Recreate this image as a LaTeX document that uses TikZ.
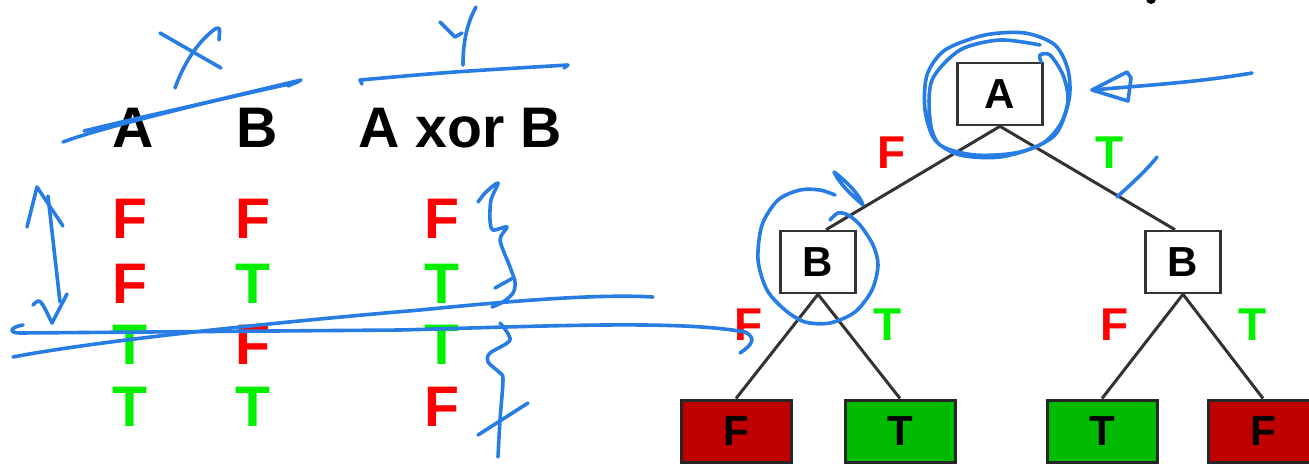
\documentclass[tikz,border=0pt]{standalone}
\usepackage{fontspec}
\setmainfont{Liberation Sans}
\usepackage{tikz}
\usetikzlibrary{positioning}

\definecolor{penblue}{RGB}{40,125,228}
\definecolor{valred}{RGB}{255,0,0}
\definecolor{valgreen}{RGB}{0,240,0}
\definecolor{leafred}{RGB}{192,0,0}
\definecolor{leafgreen}{RGB}{0,187,0}

\tikzset{
    head/.style={font=\fontsize{28.6}{30}\selectfont\bfseries, text=black, inner sep=0pt},
    fval/.style={font=\fontsize{28.6}{30}\selectfont\bfseries, text=valred, inner sep=0pt},
    tval/.style={font=\fontsize{28.6}{30}\selectfont\bfseries, text=valgreen, inner sep=0pt},
    edgeF/.style={font=\fontsize{23}{24}\selectfont\bfseries, text=valred, inner sep=0pt},
    edgeT/.style={font=\fontsize{23}{24}\selectfont\bfseries, text=valgreen, inner sep=0pt},
    test/.style={rectangle, draw=black!80, line width=1.3pt, fill=white, minimum width=42.5pt, minimum height=31pt, font=\fontsize{21}{22}\selectfont\bfseries},
    leaf/.style={rectangle, draw=black!85, line width=1.5pt, minimum width=55pt, minimum height=31pt, font=\fontsize{21}{22}\selectfont\bfseries},
    branch/.style={draw=black!80, line width=1.5pt},
    ink/.style={draw=penblue, line width=1.8pt, line cap=round, line join=round}
}

\begin{document}
\begin{tikzpicture}[x=0.5pt, y=-0.5pt]
    \useasboundingbox (0,0) rectangle (1309,465);
    \clip (0,0) rectangle (1309,465);

    % truth table
    \node (hA) [head] at (133,128) {A};
    \node (hB) [head] at (257,128) {B};
    \node (hX) [head] at (460,128) {A xor B};

    \node (a1) [fval] at (130,219) {F};
    \node (b1) [fval] at (253,219) {F};
    \node (x1) [fval] at (442,219) {F};
    \node (a2) [fval] at (130,284) {F};
    \node (b2) [tval] at (253,284) {T};
    \node (x2) [tval] at (442,284) {T};
    \node (a3) [tval] at (130,345) {T};
    \node (b3) [fval] at (253,345) {F};
    \node (x3) [tval] at (442,345) {T};
    \node (a4) [tval] at (130,407) {T};
    \node (b4) [tval] at (253,407) {T};
    \node (x4) [fval] at (442,407) {F};

    % decision tree
    \node (top) [test] at (1000,94) {A};
    \node (bf) [test, minimum width=37.5pt] at (818,262) {B};
    \node (bt) [test, minimum width=37.5pt] at (1183,262) {B};
    \node (ff) [leaf, fill=leafred] at (736,431) {F};
    \node (ft) [leaf, fill=leafgreen] at (900,431) {T};
    \node (tf) [leaf, fill=leafgreen] at (1102,431) {T};
    \node (tt) [leaf, fill=leafred] at (1263,431) {F};

    \draw [branch] (top.south) -- ([xshift=4pt]bf.north);
    \draw [branch] (top.south) -- ([xshift=-4pt]bt.north);
    \draw [branch] (bf.south) -- (ff.north);
    \draw [branch] (bf.south) -- (ft.north);
    \draw [branch] (bt.south) -- (tf.north);
    \draw [branch] (bt.south) -- (tt.north);

    \node (eAF) [edgeF] at (892,153) {F};
    \node (eAT) [edgeT] at (1110,153) {T};
    \node (eBF) [edgeF] at (749,325) {F};
    \node (eBT) [edgeT] at (888,325) {T};
    \node (eCF) [edgeF] at (1115,325) {F};
    \node (eCT) [edgeT] at (1253,325) {T};

    \fill (1151,-1) circle (2.5pt);

    % pen marks over the table
    \draw [ink] (63,142) .. controls (100,128) and (200,104) .. (301,80) -- (288,86);
    \draw [ink] (84,131) .. controls (150,115) and (240,95) .. (298,82);
    \draw [ink] (160,33) -- (221,68);
    \draw [ink] (175,88) .. controls (185,60) and (200,40) .. (215,29) .. controls (220,27) .. (219,40);
    \draw [ink] (362,84) -- (360,80) .. controls (450,72) .. (568,65) -- (564,68);
    \draw [ink] (440,22) -- (455,37) -- (462,33);
    \draw [ink] (463,65) .. controls (463,45) and (466,25) .. (476,7);

    \draw [ink] (27,227) -- (37,187) -- (63,226);
    \draw [ink] (48,196) -- (60,302);
    \draw [ink] (33,305) .. controls (40,298) .. (52,323) -- (67,294);

    \draw [ink] plot [smooth] coordinates {(478,202) (486,192) (498,183) (491,200) (490,220) (493,230) (507,227) (500,240) (510,267) (515,282) (513,293) (503,302) (492,307)};
    \draw [ink] (495,288) -- (513,278);
    \draw [ink] plot [smooth] coordinates {(500,323) (510,340) (490,353) (488,362) (500,373) (503,380) (500,420) (498,457)};
    \draw [ink] (478,435) -- (528,403);

    \draw [ink] (13,357) .. controls (100,340) and (300,320) .. (420,310) .. controls (520,300) and (600,294) .. (653,297);
    \draw [ink] (23,325) .. controls (10,327) and (8,333) .. (20,333) -- (400,330) .. controls (550,326) and (680,320) .. (745,332) .. controls (757,338) and (752,345) .. (740,353);

    % pen marks over the tree
    \draw [ink] plot [smooth] coordinates {(1041,62) (1040,55) (1050,55) (1063,75) (1068,100) (1060,125) (1040,145) (1000,157) (960,155) (935,140) (925,110) (927,75) (945,50) (985,35) (1025,33) (1055,45) (1068,70) (1069,100) (1055,135) (1020,152) (975,155) (940,145) (930,120) (932,80) (960,50) (1000,40) (1040,45)};
    \draw [ink] (1252,73) .. controls (1200,82) and (1150,85) .. (1092,90);
    \draw [ink] (1092,90) -- (1127,72) -- (1131,78) -- (1128,101) -- cycle;
    \draw [ink] (1157,157) .. controls (1145,172) and (1130,185) .. (1117,197);

    \draw [ink] plot [smooth] coordinates {(830,220) (838,213) (848,215) (860,225) (873,245) (878,265) (872,290) (855,312) (830,323) (805,322) (785,310) (767,290) (758,260) (762,225) (778,200) (800,190) (820,190) (835,195)};
    \draw [ink] (834,172) .. controls (845,180) and (860,195) .. (863,205) .. controls (855,198) and (840,185) .. (834,172);
\end{tikzpicture}
\end{document}
